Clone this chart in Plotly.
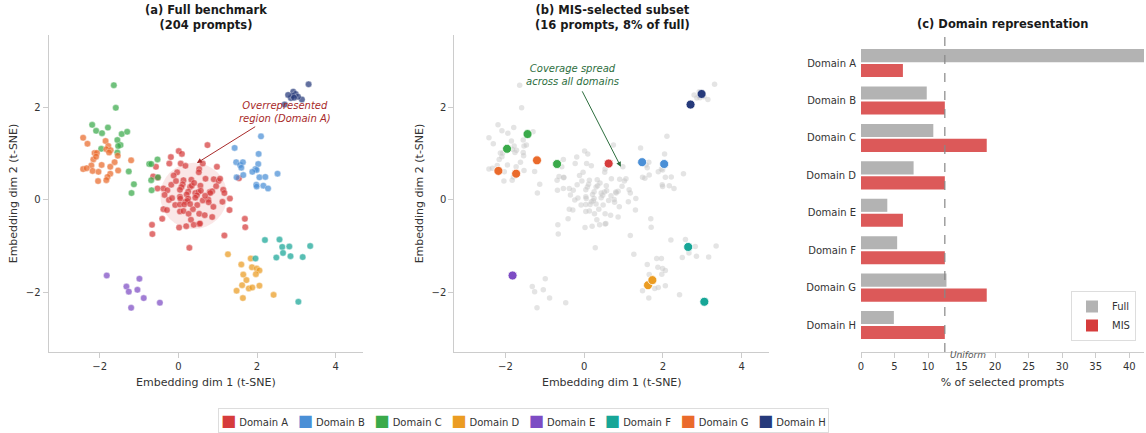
import plotly.graph_objects as go

domains = ["Domain A", "Domain B", "Domain C", "Domain D", "Domain E", "Domain F", "Domain G", "Domain H"]
colors = ["#d63c3c", "#4a8fd6", "#3aaa4a", "#eb9c22", "#7d4cc4", "#17a697", "#ea6a2b", "#263a7b"]

# ---- embedding coordinates per domain (t-SNE dims) ----
a_x = [0.74, 0.01, 0.09, -0.19, -0.23, -0.57, 0.06, 0.18, 0.62, 0.53, 0.52, 0.98, -0.03, -0.12, -0.64, -0.52,
       0.13, 0.33, 0.69, 0.90, 1.02, 1.06, -0.18, 0.11, 0.08, 0.04, 0.30, 0.34, 0.56, -0.38, -0.28, -0.53,
       0.25, 0.21, 0.43, 0.51, 0.57, 0.47, 0.43, 0.80, 0.86, 0.81, 1.14, 1.17, -0.35, 0.04, 0.05, 0.25,
       1.31, -0.24, 0.62, 0.76, 0.77, 0.18, 0.23, -0.08, 0.04, 0.15, 0.48, 0.89, 1.12, -0.38, -0.29, 0.04,
       0.13, 0.37, 0.26, 1.30, 0.53, 0.67, 0.86, -0.41, 0.32, 0.39, 0.53, 0.55, 0.20, 0.02, -0.67, 1.69,
       1.70, -0.66, 1.17, 0.28, 1.54, 0.40, -0.06, 0.68, 0.30, -0.16, 0.96]
a_y = [1.19, 1.06, 1.00, 0.93, 0.79, 0.72, 0.79, 0.74, 0.79, 0.67, 0.60, 0.72, 0.60, 0.53, 0.51, 0.48,
       0.43, 0.44, 0.46, 0.45, 0.41, 0.46, 0.33, 0.34, 0.28, 0.22, 0.28, 0.31, 0.31, 0.25, 0.21, 0.25,
       0.18, 0.12, 0.15, 0.17, 0.20, 0.10, 0.05, 0.17, 0.19, 0.15, 0.22, 0.15, 0.11, 0.07, 0.03, 0.03,
       0.03, 0.00, -0.01, 0.01, -0.05, -0.04, -0.02, -0.11, -0.10, -0.10, -0.11, -0.15, -0.04, -0.20, -0.22, -0.25,
       -0.24, -0.20, -0.30, -0.22, -0.30, -0.33, -0.37, -0.41, -0.43, -0.54, -0.52, -0.51, -0.57, -0.60, -0.54, -0.41,
       -0.59, -0.74, -0.77, -1.04, 0.47, 0.37, 0.41, 0.09, -0.09, 0.04, 0.30]
b_x = [2.10, 1.43, 2.04, 1.47, 1.57, 1.64, 1.60, 2.03, 1.96, 1.99, 1.65, 1.48, 2.06, 2.21, 2.52, 1.98, 1.99, 2.16, 2.28, 1.88]
b_y = [1.38, 1.13, 1.00, 0.82, 0.76, 0.82, 0.70, 0.78, 0.67, 0.65, 0.54, 0.49, 0.49, 0.50, 0.57, 0.33, 0.29, 0.31, 0.25, 0.61]
c_x = [-1.64, -1.59, -2.19, -2.09, -1.94, -1.79, -1.44, -1.30, -1.55, -1.47, -1.53, -1.96, -1.55, -1.26, -1.13, -1.19,
       -0.74, -0.69, -0.53, -0.52, -0.69, -0.68]
c_y = [2.49, 2.00, 1.63, 1.50, 1.45, 1.57, 1.43, 1.48, 1.30, 1.19, 1.17, 1.11, 1.03, 0.62, 0.34, 0.15,
       0.78, 0.78, 0.88, 0.49, 0.43, 0.21]
d_x = [1.26, 1.60, 1.84, 1.87, 1.99, 2.06, 1.65, 1.97, 1.73, 1.62, 1.79, 1.88, 2.06, 1.48, 1.64, 2.42]
d_y = [-1.18, -1.40, -1.27, -1.46, -1.49, -1.53, -1.62, -1.61, -1.74, -1.85, -1.92, -1.90, -1.86, -1.97, -2.13, -2.06]
e_x = [-1.82, -0.99, -1.32, -1.26, -1.04, -0.88, -0.47, -1.20]
e_y = [-1.64, -1.71, -1.88, -1.99, -1.95, -2.13, -2.23, -2.34]
f_x = [2.20, 2.57, 2.64, 2.82, 2.66, 2.85, 2.49, 3.16, 3.35, 1.96, 3.05]
f_y = [-0.87, -0.86, -1.02, -1.01, -1.15, -1.22, -1.25, -1.24, -1.00, -1.27, -2.21]
g_x = [-2.42, -2.31, -1.85, -1.78, -1.83, -1.72, -2.13, -2.07, -2.16, -2.09, -1.76, -1.54, -1.62, -1.20, -2.21, -1.95,
       -1.73, -2.42, -2.33, -2.18, -2.03, -1.53, -1.73, -1.80, -1.83, -2.04]
g_y = [1.35, 1.22, 1.28, 1.17, 1.10, 1.08, 1.02, 1.02, 0.88, 0.94, 1.03, 0.96, 0.82, 0.86, 0.75, 0.76,
       0.72, 0.67, 0.69, 0.63, 0.61, 0.64, 0.57, 0.50, 0.43, 0.41]
h_x = [3.31, 2.70, 2.92, 2.98, 2.86, 3.14, 2.91, 3.04, 2.79, 2.94]
h_y = [2.51, 2.07, 2.35, 2.30, 2.21, 2.18, 2.26, 2.24, 2.28, 2.22]

# indices of MIS-selected prompts within each domain
mis_a = [8]
mis_b = [3, 7]
mis_c = [6, 11, 17]
mis_d = [9, 8]
mis_e = [0]
mis_f = [2, 10]
mis_g = [19, 22, 13]
mis_h = [1, 3]

# counts per domain
full_counts = [91, 20, 22, 16, 8, 11, 26, 10]
mis_counts = [1, 2, 3, 2, 1, 2, 3, 2]
uniform_pct = 12.5

xs = [a_x, b_x, c_x, d_x, e_x, f_x, g_x, h_x]
ys = [a_y, b_y, c_y, d_y, e_y, f_y, g_y, h_y]
mis_idx = [mis_a, mis_b, mis_c, mis_d, mis_e, mis_f, mis_g, mis_h]

FONT = "DejaVu Sans"
W, H = 1146, 433
fig = go.Figure()

# Panel (a)
for i in range(8):
    fig.add_trace(go.Scatter(x=xs[i], y=ys[i], mode="markers", xaxis="x", yaxis="y",
                             marker=dict(color=colors[i], size=6.5, opacity=0.72,
                                         line=dict(color="white", width=0.4)),
                             showlegend=False, hoverinfo="skip"))

# Panel (b) background
all_x = [v for arr in xs for v in arr]
all_y = [v for arr in ys for v in arr]
fig.add_trace(go.Scatter(x=all_x, y=all_y, mode="markers", xaxis="x2", yaxis="y2",
                         marker=dict(color="#c4c4c4", size=5.5, opacity=0.45),
                         showlegend=False, hoverinfo="skip"))
for i in range(8):
    fig.add_trace(go.Scatter(x=[xs[i][k] for k in mis_idx[i]], y=[ys[i][k] for k in mis_idx[i]],
                             mode="markers", xaxis="x2", yaxis="y2",
                             marker=dict(color=colors[i], size=9, line=dict(color="white", width=0.8)),
                             showlegend=False, hoverinfo="skip"))

# Panel (c)
tot_full = sum(full_counts)
tot_mis = sum(mis_counts)
full_pct = [c / tot_full * 100 for c in full_counts]
mis_pct = [c / tot_mis * 100 for c in mis_counts]
fig.add_trace(go.Bar(y=domains, x=full_pct, orientation="h", name="Full", xaxis="x3", yaxis="y3",
                     marker=dict(color="#b3b3b3", line=dict(width=0))))
fig.add_trace(go.Bar(y=domains, x=mis_pct, orientation="h", name="MIS", xaxis="x3", yaxis="y3",
                     marker=dict(color="#d63c3c", opacity=0.85, line=dict(width=0))))

def px_x(p):
    return p / W

def px_y(p):
    return 1 - p / H

axis_common = dict(showline=True, linecolor="#cccccc", linewidth=1, ticks="outside", ticklen=5,
                   tickcolor="#cccccc", tickfont=dict(size=10, color="#333333", family=FONT),
                   showgrid=False, zeroline=False, automargin=False)

ydom = [px_y(352), px_y(35)]
fig.update_layout(
    width=W, height=H, margin=dict(l=0, r=0, t=0, b=0),
    paper_bgcolor="white", plot_bgcolor="white",
    font=dict(family=FONT, color="#333333"),
    barmode="group", bargap=0.2, bargroupgap=0.125,
    xaxis=dict(domain=[px_x(48.5), px_x(363.3)], range=[-3.3, 4.7], tickvals=[-2, 0, 2, 4],
               ticktext=["−2", "0", "2", "4"],
               title=dict(text="Embedding dim 1 (t-SNE)", font=dict(size=11, color="#333333"), standoff=7),
               anchor="y", **axis_common),
    yaxis=dict(domain=ydom, range=[-3.3, 3.58], tickvals=[-2, 0, 2], ticktext=["−2", "0", "2"],
               title=dict(text="Embedding dim 2 (t-SNE)", font=dict(size=11, color="#333333"), standoff=5),
               anchor="x", **axis_common),
    xaxis2=dict(domain=[px_x(454.3), px_x(769.3)], range=[-3.3, 4.7], tickvals=[-2, 0, 2, 4],
                ticktext=["−2", "0", "2", "4"],
                title=dict(text="Embedding dim 1 (t-SNE)", font=dict(size=11, color="#333333"), standoff=7),
                anchor="y2", **axis_common),
    yaxis2=dict(domain=ydom, range=[-3.3, 3.58], tickvals=[-2, 0, 2], ticktext=["−2", "0", "2"],
                title=dict(text="Embedding dim 2 (t-SNE)", font=dict(size=11, color="#333333"), standoff=5),
                anchor="x2", **axis_common),
    xaxis3=dict(domain=[px_x(861), px_x(1144)], range=[0, 42.2], tickvals=list(range(0, 45, 5)),
                title=dict(text="% of selected prompts", font=dict(size=11, color="#333333"), standoff=7),
                anchor="y3", **axis_common),
    yaxis3=dict(domain=ydom, type="category", categoryorder="array", categoryarray=domains,
                range=[7.72, -0.75], showline=False, ticks="", showgrid=False, zeroline=False,
                tickfont=dict(size=10, color="#333333", family=FONT), automargin=False, anchor="x3",
                ticklabelstandoff=4),
    legend=dict(x=px_x(1136), y=px_y(341), xanchor="right", yanchor="bottom",
                bgcolor="rgba(255,255,255,0.9)", bordercolor="#dddddd", borderwidth=1,
                font=dict(size=10, color="#333333"), tracegroupgap=2, itemwidth=30),
)

# highlighted region circle
fig.add_shape(type="circle", xref="x", yref="y", x0=0.39 - 0.85, x1=0.39 + 0.85, y0=0.09 - 0.72, y1=0.09 + 0.72,
              fillcolor="rgba(214,60,60,0.12)", line=dict(width=0), layer="below")
# uniform line
fig.add_shape(type="line", xref="x3", yref="paper", x0=uniform_pct, x1=uniform_pct, y0=ydom[0], y1=ydom[1],
              line=dict(color="#888888", width=1.2, dash="dash"))

legend_text = "&nbsp;&nbsp;&nbsp;".join(
    f"<span style='color:{c}; font-size:16px'>■</span> {d}" for c, d in zip(colors, domains))

anns = [
    dict(text="<b>(a) Full benchmark<br>(204 prompts)</b>", x=px_x(205.5), y=px_y(17), xref="paper", yref="paper",
         showarrow=False, font=dict(size=11.5, color="#1a1a1a"), xanchor="center", yanchor="middle"),
    dict(text="<b>(b) MIS-selected subset<br>(16 prompts, 8% of full)</b>", x=px_x(612), y=px_y(17),
         xref="paper", yref="paper", showarrow=False, font=dict(size=11.5, color="#1a1a1a"),
         xanchor="center", yanchor="middle"),
    dict(text="<b>(c) Domain representation</b>", x=px_x(1002.5), y=px_y(24), xref="paper", yref="paper",
         showarrow=False, font=dict(size=11.5, color="#1a1a1a"), xanchor="center", yanchor="middle"),
    dict(text="<i>Overrepresented<br>region (Domain A)</i>", x=2.70, y=1.91, xref="x", yref="y", showarrow=False,
         font=dict(size=10, color="#a82a2a"), xanchor="center", yanchor="middle"),
    dict(text="", x=0.47, y=0.80, ax=1.99, ay=1.61, xref="x", yref="y", axref="x", ayref="y",
         showarrow=True, arrowhead=2, arrowsize=1, arrowwidth=1, arrowcolor="#a82a2a"),
    dict(text="<i>Coverage spread<br>across all domains</i>", x=-0.30, y=2.71, xref="x2", yref="y2",
         showarrow=False, font=dict(size=10, color="#2d6e3e"), xanchor="center", yanchor="middle"),
    dict(text="", x=0.93, y=0.72, ax=-0.07, ay=2.39, xref="x2", yref="y2", axref="x2", ayref="y2",
         showarrow=True, arrowhead=2, arrowsize=1, arrowwidth=1, arrowcolor="#2d6e3e"),
    dict(text="<i>Uniform</i>", x=12.9, y=px_y(354.5), xref="x3", yref="paper", showarrow=False,
         font=dict(size=9, color="#555555"), xanchor="left", yanchor="middle"),
    dict(text=legend_text, x=px_x(523), y=px_y(420), xref="paper", yref="paper", showarrow=False,
         font=dict(size=10, color="#333333"), xanchor="center", yanchor="middle",
         bordercolor="#dddddd", borderwidth=1, borderpad=2, bgcolor="white"),
]
fig.update_layout(annotations=anns)

fig.write_html("out.html", config={"displayModeBar": False},
               post_script="document.body.style.margin='0px';")
